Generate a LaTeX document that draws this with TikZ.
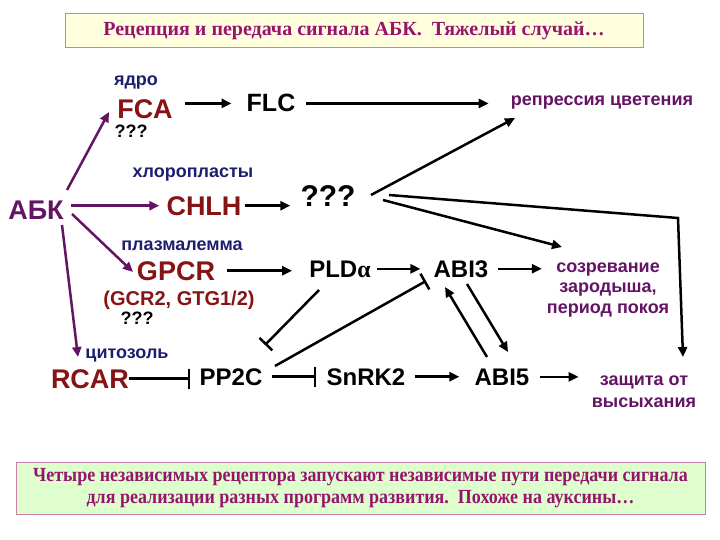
\documentclass[tikz,border=0pt]{standalone}
\usepackage{fontspec}
\setmainfont{Liberation Sans}
\newfontfamily\serifbf{Liberation Serif}
\newfontfamily\serifnarrow{Liberation Serif}[FakeStretch=0.9]
\usetikzlibrary{arrows.meta}
\definecolor{ttl}{RGB}{150,20,110}
\definecolor{abk}{RGB}{100,20,100}
\definecolor{navy}{RGB}{30,30,110}
\definecolor{dred}{RGB}{135,20,20}
\definecolor{ttlfill}{RGB}{255,255,222}
\definecolor{ttlline}{RGB}{200,130,170}
\definecolor{grfill}{RGB}{222,255,205}
\begin{document}
\begin{tikzpicture}[x=1pt,y=-1pt,
  lbl/.style={inner sep=0pt, anchor=base, font=\bfseries\fontsize{18}{20.5}\selectfont},
  big/.style={inner sep=0pt, anchor=base, text=dred, font=\bfseries\fontsize{27}{30}\selectfont},
  mid/.style={inner sep=0pt, anchor=base, font=\bfseries\fontsize{24}{27}\selectfont},
  arr/.style={line width=2.5pt, -{Triangle[length=10pt,width=9pt]}},
  parr/.style={arr, draw=abk},
  inh/.style={line width=2.5pt, -{Bar[width=20pt,line width=2.5pt]}}]
\fill[white] (0,0) rectangle (720,540);
\useasboundingbox (0,0) rectangle (720,540);

% title and bottom boxes
\node[draw=ttlline, fill=ttlfill, line width=1pt, minimum width=578pt, minimum height=34pt,
  inner sep=0pt, text=ttl, font=\serifbf\bfseries\fontsize{20}{22}\selectfont] (title) at (354,31)
  {Рецепция и передача сигнала АБК.\ \ Тяжелый случай…};
\node[draw=ttlline, fill=grfill, line width=1pt, minimum width=689pt, minimum height=52pt,
  inner sep=0pt, align=center, text=ttl, font=\serifnarrow\bfseries\fontsize{20}{22}\selectfont] (note) at (360.5,488)
  {Четыре независимых рецептора запускают независимые пути передачи сигнала\\
   для реализации разных программ развития.\ \ Похоже на ауксины…};

% nodes
\node[big, text=abk] (ABK) at (36,220) {АБК};
\node[lbl, text=navy] (yadro) at (136,86) {ядро};
\node[big] (FCA) at (145,119) {FCA};
\node[lbl] (q1) at (131,138) {???};
\node[mid, font=\bfseries\fontsize{25}{28}\selectfont] (FLC) at (271,112) {FLC};
\node[lbl, text=abk] (rep) at (602,106) {репрессия цветения};
\node[lbl, text=navy] (chl) at (193,178) {хлоропласты};
\node[big] (CHLH) at (204,215) {CHLH};
\node[lbl, font=\bfseries\fontsize{30}{32}\selectfont] (QQ) at (328,207) {???};
\node[lbl, text=navy] (plaz) at (182,251) {плазмалемма};
\node[big] (GPCR) at (176,280) {GPCR};
\node[lbl, text=dred, font=\bfseries\fontsize{20}{22}\selectfont] (gcr) at (179,305) {(GCR2, GTG1/2)};
\node[lbl] (q2) at (137,324) {???};
\node[mid] (PLD) at (340,277) {PLD{\serifbf α}};
\node[mid] (ABI3) at (461,277) {ABI3};
\node[lbl, anchor=center, align=center, text=abk] (sozr) at (608,290) {созревание\\зародыша,\\период покоя};
\node[lbl, text=navy] (cyt) at (127,358) {цитозоль};
\node[big] (RCAR) at (90,388) {RCAR};
\node[mid] (PP2C) at (231,385) {PP2C};
\node[mid] (SnRK2) at (366,385) {SnRK2};
\node[mid] (ABI5) at (502,385) {ABI5};
\node[lbl, anchor=center, align=center, text=abk, font=\bfseries\fontsize{18}{22}\selectfont] (zash) at (644,392) {защита от\\высыхания};

% purple arrows from ABK
\coordinate (a1s) at (67,190); \coordinate (a1e) at (109,112);
\coordinate (a3s) at (72,214); \coordinate (a3e) at (133,272);
\coordinate (a4s) at (62,225); \coordinate (a4e) at (78,357);
\draw[parr] (a1s) -- (a1e);
\draw[parr, shorten <=7pt, shorten >=7pt] (ABK.east |- CHLH.west) -- (CHLH.west);
\draw[parr] (a3s) -- (a3e);
\draw[parr] (a4s) -- (a4e);

% horizontal arrows
\draw[arr, shorten <=12pt, shorten >=15pt] (FCA.east |- FLC.center) -- (FLC.west);
\draw[arr, shorten <=10pt, shorten >=22pt] (FLC.east) -- (FLC.east -| rep.west);
\draw[arr, shorten <=3pt, shorten >=10pt] (CHLH.east) -- (CHLH.east -| QQ.west);
\draw[arr, shorten <=12pt, shorten >=17pt] (GPCR.east) -- (GPCR.east -| PLD.west);
\draw[arr, shorten <=6pt, shorten >=13pt] (PLD.east) -- (PLD.east -| ABI3.west);
\draw[arr, shorten <=9pt, shorten >=5pt] (ABI3.east) -- (ABI3.east -| sozr.west);
\draw[inh, shorten >=9pt] (RCAR.east) -- (RCAR.east -| PP2C.west);
\draw[inh, shorten <=9pt, shorten >=10pt] (PP2C.east) -- (PP2C.east -| SnRK2.west);
\draw[arr, shorten <=9pt, shorten >=15pt] (SnRK2.east) -- (SnRK2.east -| ABI5.west);
\draw[arr, shorten <=10pt, shorten >=13pt] (ABI5.east) -- (ABI5.east -| zash.west);

% lines from ???
\coordinate (b1s) at (371,195); \coordinate (b1e) at (515,118);
\coordinate (b2s) at (389,195); \coordinate (b2m) at (678,218); \coordinate (b2e) at (683,357);
\coordinate (b3s) at (383,200); \coordinate (b3e) at (562,247);
\draw[arr] (b1s) -- (b1e);
\draw[arr, line join=miter] (b2s) -- (b2m) -- (b2e);
\draw[arr] (b3s) -- (b3e);

% diagonal regulation
\coordinate (c1s) at (319,290); \coordinate (c1e) at (265,345);
\coordinate (c2s) at (275,366); \coordinate (c2e) at (426,281);
\coordinate (c3s) at (487,357); \coordinate (c3e) at (445,287);
\coordinate (c4s) at (467,284); \coordinate (c4e) at (508,352);
\draw[inh, -{Bar[width=18pt,line width=2.5pt]}] (c1s) -- (c1e);
\draw[inh, -{Bar[width=18pt,line width=2.5pt]}] (c2s) -- (c2e);
\draw[arr] (c3s) -- (c3e);
\draw[arr] (c4s) -- (c4e);
\end{tikzpicture}
\end{document}
